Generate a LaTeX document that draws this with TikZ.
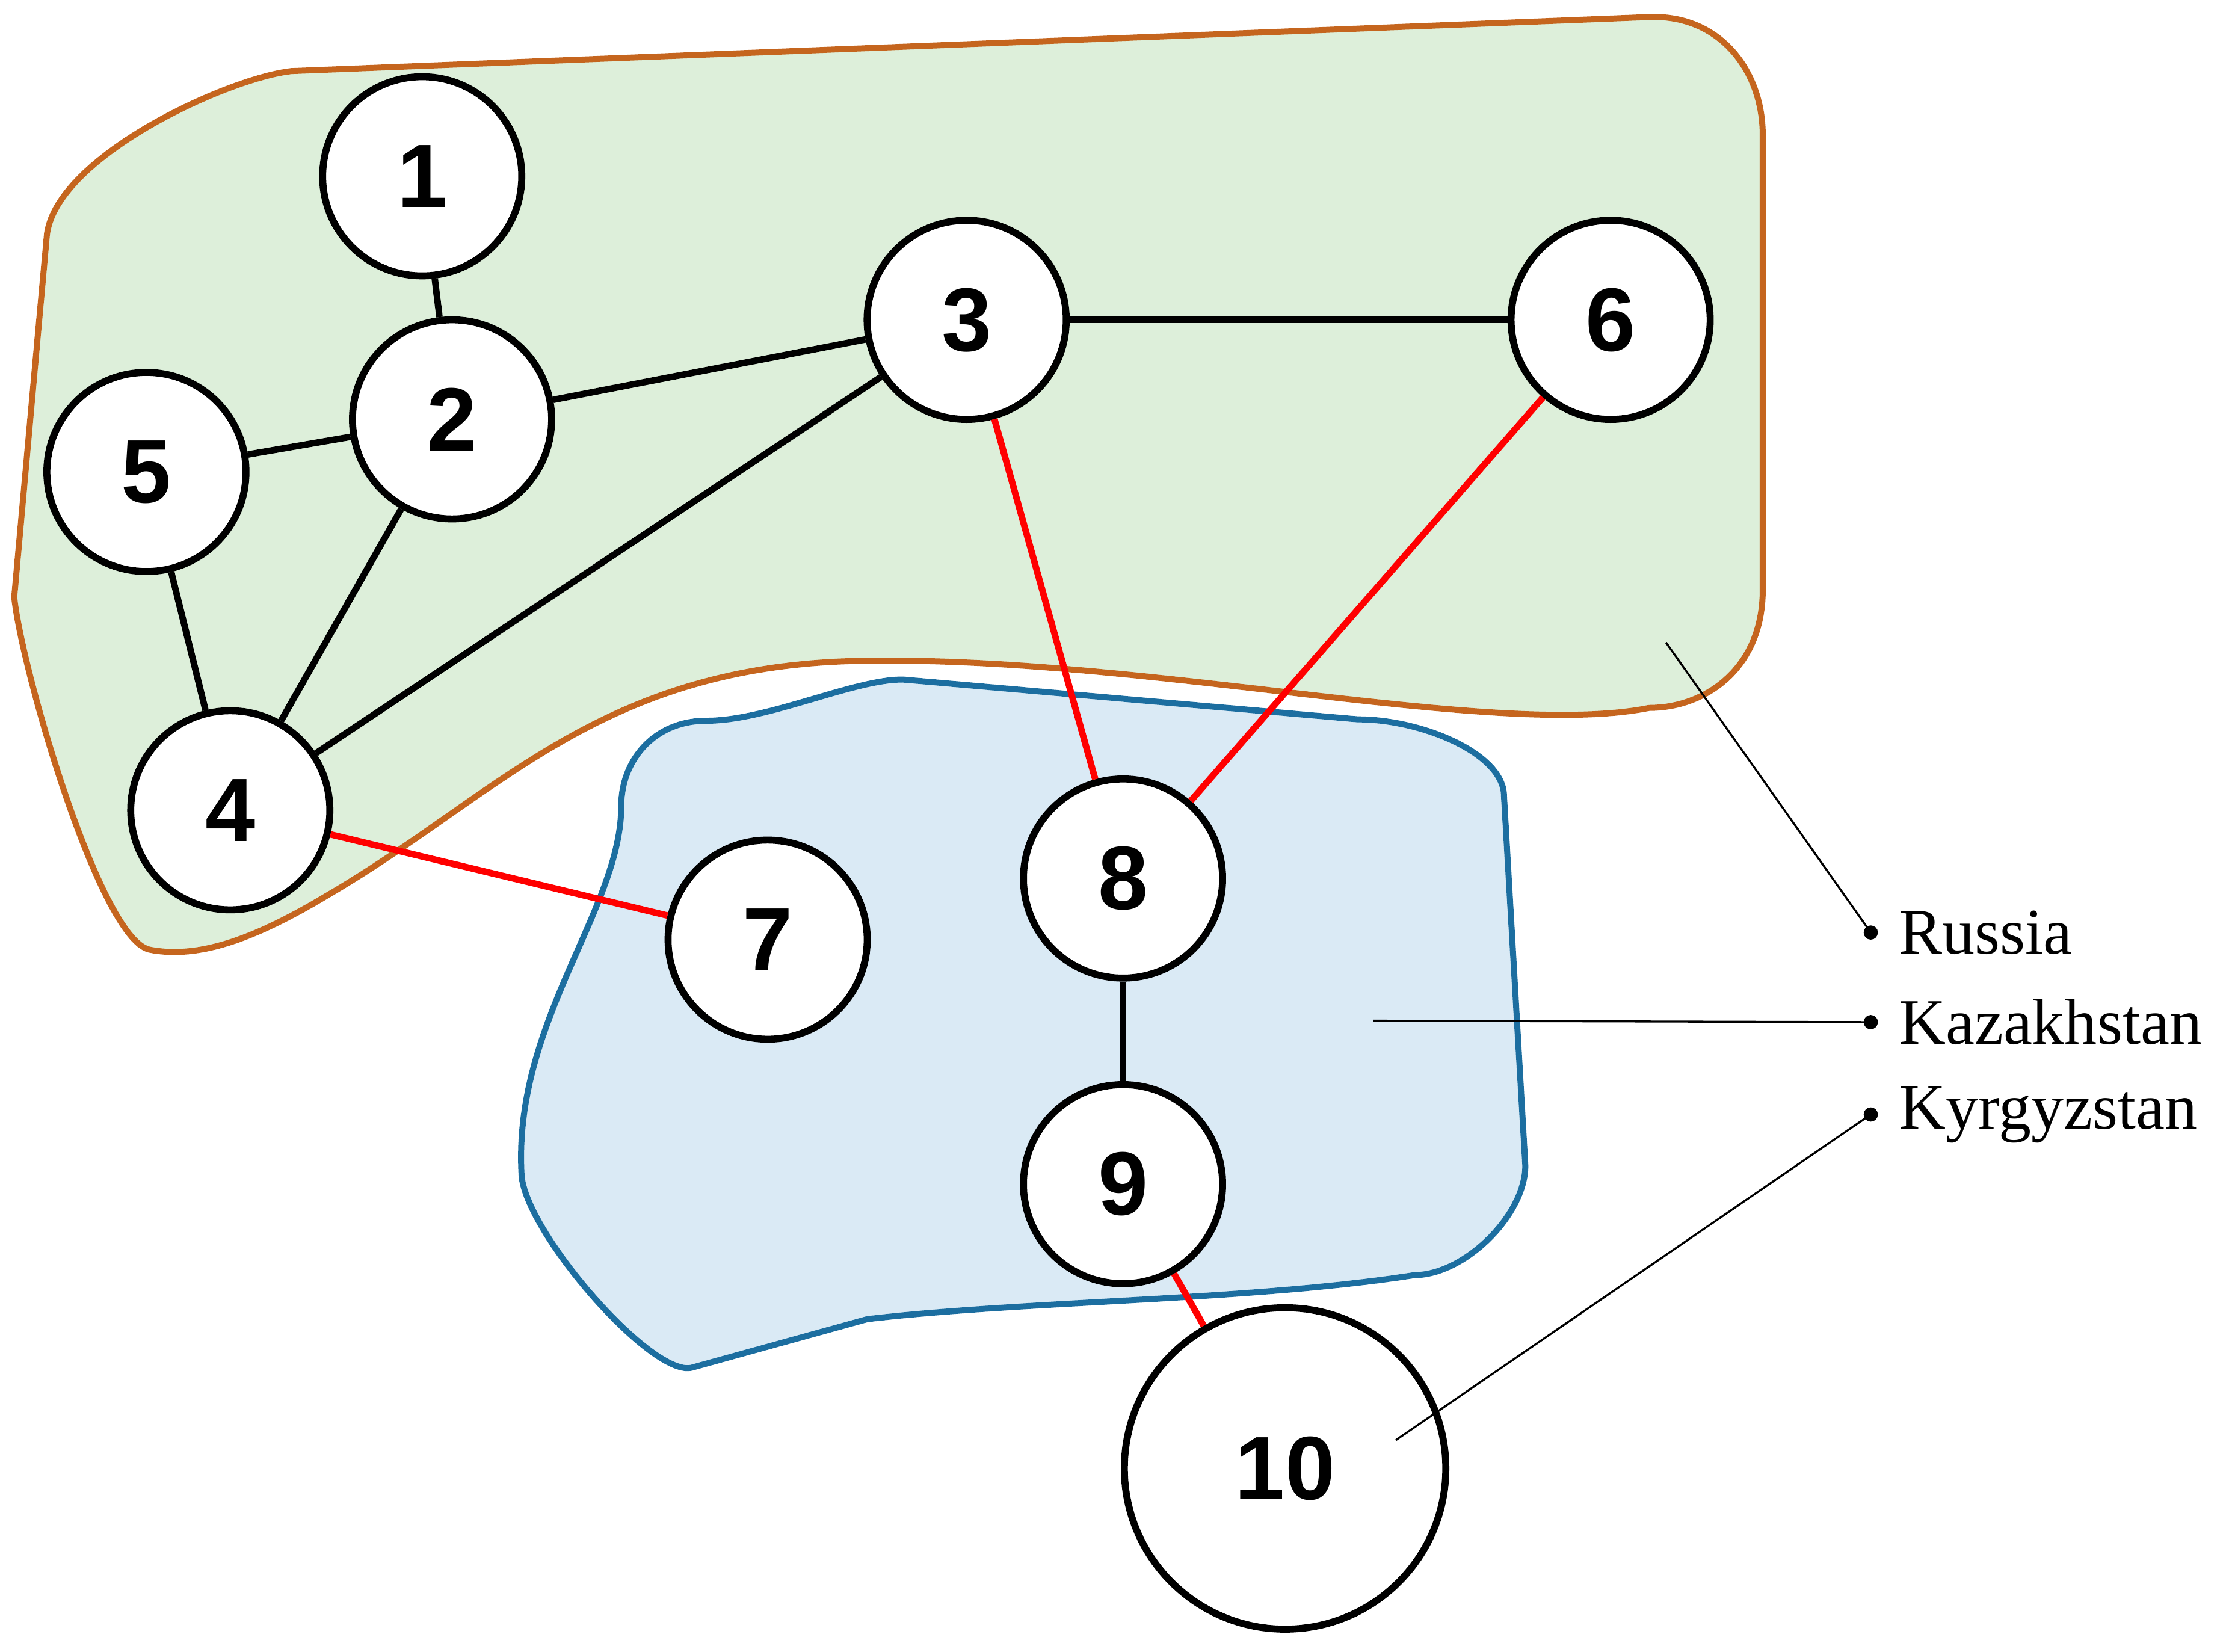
\documentclass[tikz,border=0pt]{standalone}
\usepackage{fontspec}
\setmainfont{Liberation Serif}
\newfontfamily\numfont{Liberation Sans}
\begin{document}
\begin{tikzpicture}[x=0.01cm,y=-0.01cm,
  v/.style={circle,draw,line width=1.4pt,fill=white,minimum size=1.4cm,inner sep=0pt,font=\numfont\bfseries\fontsize{18}{18}\selectfont},
  e/.style={line width=1.3pt},
  r/.style={line width=1.3pt,red},
  lab/.style={anchor=west,font=\fontsize{13}{13}\selectfont,inner sep=0pt},
  dot/.style={circle,fill=black,inner sep=0pt,minimum size=0.1cm}]
\useasboundingbox (0,0) rectangle (1568,1162);
\definecolor{rfill}{HTML}{DDEFDA}\definecolor{rline}{HTML}{C5651E}
\definecolor{kfill}{HTML}{DAEAF5}\definecolor{kline}{HTML}{1C6EA0}
\draw[rline,fill=rfill,line width=1.2pt] (205,50) -- (1160,12) .. controls (1210,10) and (1240,50) .. (1240,95) -- (1240,415)
  .. controls (1240,470) and (1200,498) .. (1160,498)
  .. controls (1050,520) and (800,460) .. (600,465)
  .. controls (420,470) and (350,560) .. (230,630)
  .. controls (180,660) and (140,675) .. (105,668)
  .. controls (70,660) and (15,470) .. (10,420) -- (33,165)
  .. controls (40,110) and (160,55) .. (205,50) -- cycle;
\draw[kline,fill=kfill,line width=1.2pt] (635,478) -- (955,506) .. controls (1000,506) and (1058,530) .. (1058,560) -- (1073,820)
  .. controls (1073,855) and (1030,897) .. (995,897)
  .. controls (880,915) and (720,915) .. (610,928) -- (487,962)
  .. controls (460,970) and (372,870) .. (367,828)
  .. controls (360,720) and (437,640) .. (437,567)
  .. controls (437,535) and (460,507) .. (497,507)
  .. controls (540,507) and (600,478) .. (635,478) -- cycle;
\node[v] (n1) at (297,124) {1};
\node[v] (n2) at (318,295) {2};
\node[v] (n3) at (680,225) {3};
\node[v] (n4) at (162,570) {4};
\node[v] (n5) at (103,332) {5};
\node[v] (n6) at (1133,225) {6};
\node[v] (n7) at (540,661) {7};
\node[v] (n8) at (790,618) {8};
\node[v] (n9) at (790,833) {9};
\node[v,minimum size=2.26cm] (n10) at (904,1033) {10};
\begin{scope}[on background layer/.style={}]
\end{scope}
\draw[e] (n1)--(n2); \draw[e] (n2)--(n3); \draw[e] (n5)--(n2); \draw[e] (n2)--(n4);
\draw[e] (n5)--(n4); \draw[e] (n3)--(n4); \draw[e] (n3)--(n6); \draw[e] (n8)--(n9);
\draw[r] (n3)--(n8); \draw[r] (n6)--(n8); \draw[r] (n4)--(n7); \draw[r] (n9)--(n10);
\node[dot] (d1) at (1316,656) {}; \node[dot] (d2) at (1316,719) {}; \node[dot] (d3) at (1316,784) {};
\node[lab] (l1) at (1335,656) {Russia};
\node[lab] (l2) at (1335,719) {Kazakhstan};
\node[lab] (l3) at (1335,784) {Kyrgyzstan};
\coordinate (p1) at (1172,452); \coordinate (p2) at (966,718); \coordinate (p3) at (982,1013);
\draw[thin] (p1)--(d1.center); \draw[thin] (p2)--(d2.center); \draw[thin] (p3)--(d3.center);
\end{tikzpicture}
\end{document}
